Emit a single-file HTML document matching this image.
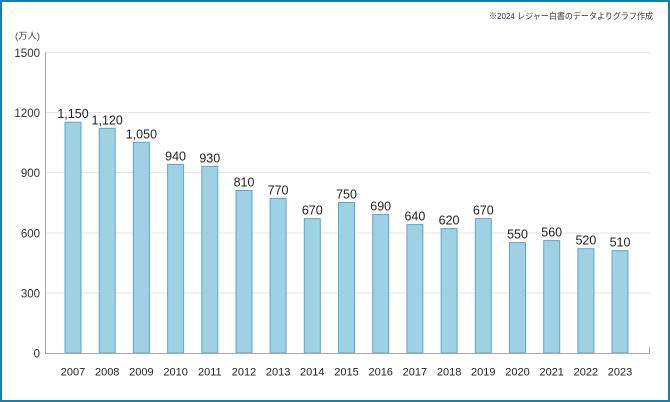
<!DOCTYPE html>
<html><head><meta charset="utf-8"><style>
html,body{margin:0;padding:0;background:#fff;}
svg{display:block;}
</style></head><body>
<svg width="670" height="402" viewBox="0 0 670 402" xmlns="http://www.w3.org/2000/svg" font-family="'Liberation Sans','Noto Sans CJK JP',sans-serif">
<rect x="0" y="0" width="670" height="402" fill="#fff"/>
<rect x="1" y="1" width="668" height="400" fill="none" stroke="#1a7fa6" stroke-width="2"/>
<text x="653" y="19" font-size="8.5" fill="#333" text-anchor="end" textLength="164" lengthAdjust="spacingAndGlyphs">※2024 レジャー白書のデータよりグラフ作成</text>
<text x="15" y="39" font-size="9" fill="#444" textLength="25" lengthAdjust="spacingAndGlyphs">(万人)</text>
<g stroke="#e6e6e6" stroke-width="1">
<line x1="45" y1="52.5" x2="650" y2="52.5"/>
<line x1="45" y1="112.5" x2="650" y2="112.5"/>
<line x1="45" y1="172.5" x2="650" y2="172.5"/>
<line x1="45" y1="233" x2="650" y2="233"/>
<line x1="45" y1="293" x2="650" y2="293"/>
</g>
<g font-size="11.5" fill="#333" text-anchor="end">
<text x="40" y="57">1500</text>
<text x="40" y="117">1200</text>
<text x="40" y="177">900</text>
<text x="40" y="237.5">600</text>
<text x="40" y="297.5">300</text>
<text x="40" y="357.5">0</text>
</g>
<g fill="#9fd1e4" stroke="#5ea7c6" stroke-width="1">
<rect x="65.0" y="122.2" width="16" height="230.8"/>
<rect x="99.2" y="128.3" width="16" height="224.7"/>
<rect x="133.4" y="142.3" width="16" height="210.7"/>
<rect x="167.6" y="164.4" width="16" height="188.6"/>
<rect x="201.8" y="166.4" width="16" height="186.6"/>
<rect x="236.0" y="190.5" width="16" height="162.5"/>
<rect x="270.1" y="198.5" width="16" height="154.5"/>
<rect x="304.3" y="218.6" width="16" height="134.4"/>
<rect x="338.5" y="202.5" width="16" height="150.5"/>
<rect x="372.7" y="214.5" width="16" height="138.5"/>
<rect x="406.9" y="224.6" width="16" height="128.4"/>
<rect x="441.1" y="228.6" width="16" height="124.4"/>
<rect x="475.3" y="218.6" width="16" height="134.4"/>
<rect x="509.5" y="242.6" width="16" height="110.4"/>
<rect x="543.7" y="240.6" width="16" height="112.4"/>
<rect x="577.9" y="248.7" width="16" height="104.3"/>
<rect x="612.0" y="250.7" width="16" height="102.3"/>
</g>
<g font-size="12.5" fill="#222" text-anchor="middle">
<text x="73.0" y="118.2">1,150</text>
<text x="107.2" y="124.3">1,120</text>
<text x="141.4" y="138.3">1,050</text>
<text x="175.6" y="160.4">940</text>
<text x="209.8" y="162.4">930</text>
<text x="244.0" y="186.5">810</text>
<text x="278.1" y="194.5">770</text>
<text x="312.3" y="214.6">670</text>
<text x="346.5" y="198.5">750</text>
<text x="380.7" y="210.5">690</text>
<text x="414.9" y="220.6">640</text>
<text x="449.1" y="224.6">620</text>
<text x="483.3" y="214.6">670</text>
<text x="517.5" y="238.6">550</text>
<text x="551.7" y="236.6">560</text>
<text x="585.9" y="244.7">520</text>
<text x="620.0" y="246.7">510</text>
</g>
<g font-size="11" fill="#222" text-anchor="middle">
<text x="73.0" y="375.5">2007</text>
<text x="107.2" y="375.5">2008</text>
<text x="141.4" y="375.5">2009</text>
<text x="175.6" y="375.5">2010</text>
<text x="209.8" y="375.5">2011</text>
<text x="244.0" y="375.5">2012</text>
<text x="278.1" y="375.5">2013</text>
<text x="312.3" y="375.5">2014</text>
<text x="346.5" y="375.5">2015</text>
<text x="380.7" y="375.5">2016</text>
<text x="414.9" y="375.5">2017</text>
<text x="449.1" y="375.5">2018</text>
<text x="483.3" y="375.5">2019</text>
<text x="517.5" y="375.5">2020</text>
<text x="551.7" y="375.5">2021</text>
<text x="585.9" y="375.5">2022</text>
<text x="620.0" y="375.5">2023</text>
</g>
<line x1="45.5" y1="52" x2="45.5" y2="353.5" stroke="#aaa" stroke-width="1"/>
<line x1="45" y1="353.5" x2="650" y2="353.5" stroke="#aaa" stroke-width="1"/>
<line x1="649.5" y1="347" x2="649.5" y2="353.5" stroke="#aaa" stroke-width="1"/>
</svg>
</body></html>
